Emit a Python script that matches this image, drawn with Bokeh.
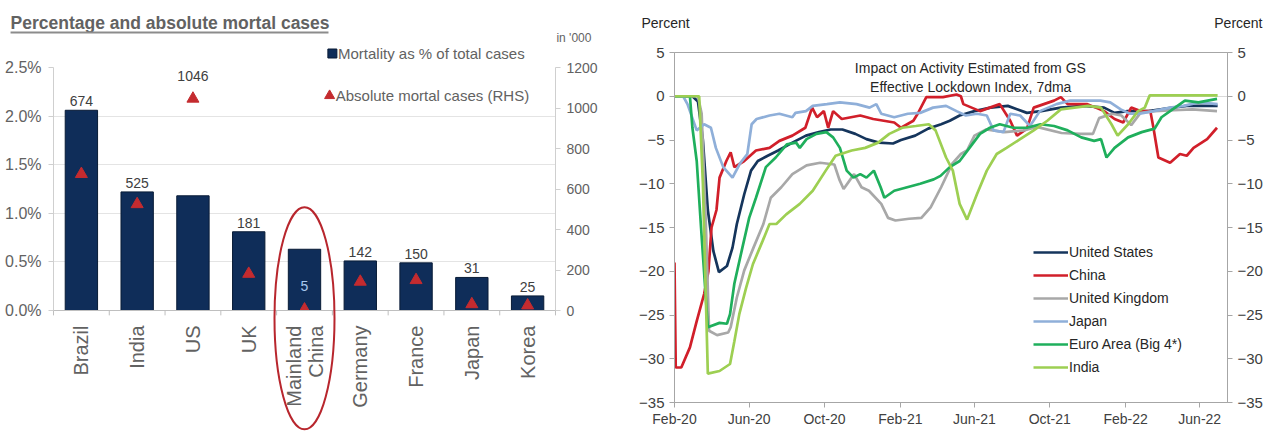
from math import pi
import pandas as pd
from bokeh.plotting import figure
from bokeh.layouts import row
from bokeh.models import (FactorRange, Range1d, LinearAxis, FixedTicker, PrintfTickFormatter,
                          DatetimeTickFormatter, Label, Legend, LegendItem, ColumnDataSource)
from bokeh.core.properties import value
from bokeh.embed import file_html
from bokeh.resources import INLINE

FONT = "Liberation Sans"
GREY_TXT = "#626262"
DARK_TXT = "#404040"
INK = "#262626"

# ---------------- left panel: mortality by country ----------------
countries = ["Brazil", "India", "US", "UK", "Mainland\nChina", "Germany", "France", "Japan", "Korea"]
mortality_pct = [2.06, 1.22, 1.18, 0.81, 0.63, 0.51, 0.49, 0.34, 0.15]
deaths_thousand = [674, 525, 1046, 181, 5, 142, 150, 31, 25]
pct_ticks = [0.0, 0.5, 1.0, 1.5, 2.0, 2.5]
abs_ticks = [0, 200, 400, 600, 800, 1000, 1200]
highlight = "Mainland\nChina"

# ---------------- right panel: lockdown impact (percent) ----------------
us_pts = [("2020-02-01", 0), ("2020-03-01", 0), ("2020-03-10", -0.6), ("2020-03-18", -5), ("2020-03-26", -13),
          ("2020-04-04", -17.7), ("2020-04-13", -20.1), ("2020-04-26", -19.4), ("2020-05-05", -17.3),
          ("2020-05-12", -14.6), ("2020-05-24", -11.2), ("2020-06-04", -8.5), ("2020-06-15", -7.4),
          ("2020-07-01", -6.8), ("2020-07-18", -6.2), ("2020-08-10", -5.3), ("2020-09-01", -4.5),
          ("2020-09-22", -4.1), ("2020-10-11", -3.8), ("2020-10-30", -3.8), ("2020-11-20", -4.3),
          ("2020-12-08", -4.9), ("2020-12-28", -5.3), ("2021-01-20", -5.4), ("2021-02-02", -5.0),
          ("2021-02-25", -4.5), ("2021-03-18", -3.7), ("2021-04-08", -3.2), ("2021-04-22", -2.8),
          ("2021-05-08", -2.2), ("2021-06-01", -1.7), ("2021-06-27", -1.3), ("2021-07-25", -1.1),
          ("2021-08-25", -1.9), ("2021-09-17", -1.7), ("2021-10-19", -1.3), ("2021-11-25", -1.1),
          ("2021-12-28", -1.3), ("2022-01-14", -1.9), ("2022-02-04", -1.7), ("2022-03-10", -1.7),
          ("2022-04-18", -1.3), ("2022-05-11", -1.1), ("2022-06-13", -1.1), ("2022-06-30", -1.1)]
china_pts = [("2020-02-01", -19), ("2020-02-03", -31), ("2020-02-12", -31), ("2020-02-26", -28.7),
             ("2020-03-08", -25.7), ("2020-03-20", -22.6), ("2020-03-27", -20), ("2020-04-01", -15),
             ("2020-04-09", -13), ("2020-04-14", -9.3), ("2020-04-25", -7.4), ("2020-05-02", -6.4),
             ("2020-05-08", -8.1), ("2020-05-24", -7.4), ("2020-06-12", -6.2), ("2020-07-04", -5.9),
             ("2020-07-20", -5.1), ("2020-08-10", -4.5), ("2020-08-31", -3.6), ("2020-09-11", -1.3),
             ("2020-09-19", -2.4), ("2020-09-30", -1.7), ("2020-10-07", -3.6), ("2020-10-15", -1.7),
             ("2020-10-29", -2.6), ("2020-11-28", -2.2), ("2020-12-19", -2.6), ("2021-01-22", -3.0),
             ("2021-02-02", -3.6), ("2021-02-22", -2.8), ("2021-03-01", -2.0), ("2021-03-15", -0.1),
             ("2021-04-11", -0.1), ("2021-05-03", 0.2), ("2021-05-10", 0.0), ("2021-05-14", -0.9),
             ("2021-06-10", -1.7), ("2021-07-12", -0.9), ("2021-07-29", -2.8), ("2021-08-09", -4.5),
             ("2021-08-25", -3.7), ("2021-09-05", -1.3), ("2021-10-08", -0.5), ("2021-10-19", -0.1),
             ("2021-10-30", -0.9), ("2021-12-01", -0.9), ("2021-12-28", -1.7), ("2022-01-14", -2.6),
             ("2022-01-28", -3.0), ("2022-02-10", -1.3), ("2022-02-25", -1.7), ("2022-03-13", -1.7),
             ("2022-03-18", -3.6), ("2022-03-26", -7.0), ("2022-04-14", -7.6), ("2022-04-30", -6.6),
             ("2022-05-11", -6.8), ("2022-05-22", -5.9), ("2022-06-13", -4.9), ("2022-06-29", -3.6)]
uk_pts = [("2020-02-01", 0), ("2020-03-10", 0), ("2020-03-16", -2), ("2020-03-23", -15), ("2020-03-28", -26.8),
          ("2020-04-10", -27.3), ("2020-04-28", -27.0), ("2020-05-02", -26.4), ("2020-05-12", -23),
          ("2020-05-24", -19.9), ("2020-06-08", -17.3), ("2020-06-24", -14.6), ("2020-07-06", -11.6),
          ("2020-07-23", -10.4), ("2020-08-10", -8.9), ("2020-09-02", -7.9), ("2020-09-24", -7.6),
          ("2020-10-17", -7.8), ("2020-10-25", -9.5), ("2020-11-01", -10.6), ("2020-11-18", -8.9),
          ("2020-11-30", -10.4), ("2020-12-12", -10.8), ("2021-01-01", -12.3), ("2021-01-12", -13.9),
          ("2021-01-24", -14.2), ("2021-02-15", -14.0), ("2021-03-07", -13.9), ("2021-03-22", -12.7),
          ("2021-04-08", -10.4), ("2021-04-26", -7.7), ("2021-05-10", -6.6), ("2021-05-20", -6.2),
          ("2021-06-01", -4.5), ("2021-06-20", -3.8), ("2021-07-20", -4.1), ("2021-08-20", -3.9),
          ("2021-09-10", -3.5), ("2021-10-20", -4.2), ("2021-11-20", -4.3), ("2021-12-10", -4.3),
          ("2021-12-20", -2.5), ("2022-01-10", -2.0), ("2022-01-25", -2.2), ("2022-02-10", -3.3),
          ("2022-02-25", -1.9), ("2022-03-20", -1.7), ("2022-04-20", -1.6), ("2022-05-20", -1.5),
          ("2022-06-29", -1.7)]
japan_pts = [("2020-02-01", 0), ("2020-02-15", 0), ("2020-02-22", -0.9), ("2020-03-08", -3.9),
             ("2020-03-20", -3.2), ("2020-03-31", -3.6), ("2020-04-08", -5.9), ("2020-04-20", -8.1),
             ("2020-05-05", -9.3), ("2020-05-17", -7.7), ("2020-05-29", -6.6), ("2020-06-05", -3.2),
             ("2020-06-13", -2.6), ("2020-07-04", -2.2), ("2020-07-20", -2.0), ("2020-08-10", -2.4),
             ("2020-08-15", -1.9), ("2020-09-01", -1.7), ("2020-09-12", -1.1), ("2020-10-05", -0.9),
             ("2020-10-26", -0.7), ("2020-11-22", -0.9), ("2020-12-13", -1.3), ("2020-12-24", -0.9),
             ("2021-01-01", -2.0), ("2021-01-22", -2.4), ("2021-02-13", -2.0), ("2021-03-05", -1.9),
             ("2021-03-26", -1.3), ("2021-04-16", -1.1), ("2021-05-03", -1.7), ("2021-05-18", -2.2),
             ("2021-06-05", -2.0), ("2021-06-21", -2.2), ("2021-07-02", -3.9), ("2021-07-18", -4.1),
             ("2021-07-29", -2.0), ("2021-08-14", -2.2), ("2021-08-30", -3.4), ("2021-09-15", -1.7),
             ("2021-10-12", -0.9), ("2021-11-03", -0.5), ("2021-11-25", -0.5), ("2021-12-22", -0.5),
             ("2022-01-07", -0.7), ("2022-01-24", -1.5), ("2022-02-08", -2.0), ("2022-02-24", -2.0),
             ("2022-03-18", -1.7), ("2022-04-14", -1.3), ("2022-05-06", -1.1), ("2022-05-30", -0.7),
             ("2022-06-30", -0.9)]
euro_pts = [("2020-02-01", 0), ("2020-02-26", 0), ("2020-03-01", -3.6), ("2020-03-08", -7.4),
            ("2020-03-15", -15), ("2020-03-26", -26.4), ("2020-04-14", -25.9), ("2020-04-26", -26),
            ("2020-05-01", -24.9), ("2020-05-08", -21.4), ("2020-05-21", -17.3), ("2020-06-01", -13.9),
            ("2020-06-12", -11.6), ("2020-06-28", -8.1), ("2020-07-14", -7.0), ("2020-08-01", -5.5),
            ("2020-08-16", -5.3), ("2020-08-22", -5.9), ("2020-09-02", -4.9), ("2020-09-18", -4.3),
            ("2020-10-04", -4.1), ("2020-10-15", -4.7), ("2020-10-26", -5.9), ("2020-11-06", -8.5),
            ("2020-11-17", -9.3), ("2020-11-28", -8.9), ("2020-12-08", -9.3), ("2020-12-20", -8.5),
            ("2020-12-31", -10.4), ("2021-01-06", -11.6), ("2021-01-22", -10.8), ("2021-02-12", -10.4),
            ("2021-03-05", -10.0), ("2021-03-27", -9.5), ("2021-04-07", -9.1), ("2021-04-22", -8.1),
            ("2021-05-08", -7.4), ("2021-05-24", -5.9), ("2021-06-10", -4.3), ("2021-06-26", -3.6),
            ("2021-07-12", -3.2), ("2021-08-03", -3.6), ("2021-08-25", -3.6), ("2021-09-16", -3.2),
            ("2021-10-08", -3.4), ("2021-10-30", -3.9), ("2021-11-21", -4.7), ("2021-12-12", -5.1),
            ("2021-12-23", -4.9), ("2022-01-01", -7.0), ("2022-01-14", -5.9), ("2022-02-05", -4.7),
            ("2022-02-27", -4.1), ("2022-03-20", -3.7), ("2022-03-31", -2.4), ("2022-04-22", -1.3),
            ("2022-05-08", -0.5), ("2022-05-30", -0.7), ("2022-06-14", -0.5), ("2022-06-29", -0.3)]
india_pts = [("2020-02-01", 0), ("2020-03-12", 0), ("2020-03-18", -10), ("2020-03-26", -31.7),
             ("2020-04-14", -31.4), ("2020-05-01", -30.6), ("2020-05-08", -28), ("2020-05-16", -24.9),
             ("2020-05-27", -21.9), ("2020-06-07", -19.2), ("2020-06-23", -16.5), ("2020-07-04", -14.6),
             ("2020-07-15", -14.6), ("2020-07-31", -13.5), ("2020-08-22", -12.3), ("2020-09-12", -10.8),
             ("2020-10-03", -8.5), ("2020-10-19", -6.8), ("2020-11-14", -6.2), ("2020-12-06", -5.9),
             ("2020-12-27", -5.3), ("2021-01-14", -4.3), ("2021-02-04", -3.6), ("2021-02-26", -3.4),
             ("2021-03-19", -3.2), ("2021-03-30", -3.9), ("2021-04-16", -7.0), ("2021-04-27", -8.5),
             ("2021-05-08", -12.3), ("2021-05-20", -14.1), ("2021-06-05", -11.2), ("2021-06-21", -8.5),
             ("2021-07-07", -6.6), ("2021-07-23", -5.9), ("2021-08-14", -4.9), ("2021-09-05", -3.9),
             ("2021-09-27", -2.8), ("2021-10-19", -1.5), ("2021-11-10", -1.3), ("2021-12-02", -1.1),
             ("2021-12-23", -1.3), ("2022-01-09", -3.2), ("2022-01-19", -4.5), ("2022-02-05", -3.2),
             ("2022-02-21", -1.7), ("2022-03-04", -1.3), ("2022-03-12", 0.1), ("2022-04-20", 0.1),
             ("2022-06-30", 0.1)]

series = [("United States", us_pts, "#15355c"),
          ("China", china_pts, "#d11f2a"),
          ("United Kingdom", uk_pts, "#a8a8a8"),
          ("Japan", japan_pts, "#8fafd9"),
          ("Euro Area (Big 4*)", euro_pts, "#1faf5c"),
          ("India", india_pts, "#9dcf52")]
pct_axis_ticks = [5, 0, -5, -10, -15, -20, -25, -30, -35]
date_ticks = ["2020-02-01", "2020-06-01", "2020-10-01", "2021-02-01",
              "2021-06-01", "2021-10-01", "2022-02-01", "2022-06-01"]


def style_axis(a, size, color, line_color):
    a.axis_line_color = line_color
    a.major_tick_line_color = line_color
    a.major_tick_in = 0
    a.major_tick_out = 5
    a.minor_tick_line_color = None
    a.major_label_text_font = FONT
    a.major_label_text_font_size = size
    a.major_label_text_color = color


# ===================== left figure =====================
pct_max = pct_ticks[-1]
abs_max = abs_ticks[-1]
n_cat = len(countries)
left = figure(width=620, height=438, x_range=FactorRange(factors=countries),
              y_range=Range1d(0, pct_max), output_backend="svg", toolbar_location=None,
              min_border_left=53, min_border_right=65, min_border_top=67, min_border_bottom=128,
              frame_align=False)
left.outline_line_color = None
left.extra_y_ranges = {"abs": Range1d(0, abs_max)}
left.xgrid.grid_line_color = None
left.ygrid.ticker = FixedTicker(ticks=pct_ticks)
left.ygrid.grid_line_color = "#e4e4e4"

lax = left.yaxis[0]
lax.ticker = FixedTicker(ticks=pct_ticks)
lax.formatter = PrintfTickFormatter(format="%.1f%%")
style_axis(lax, "16px", GREY_TXT, "#cfcfcf")
lax.major_label_standoff = 7

rax = LinearAxis(y_range_name="abs", ticker=FixedTicker(ticks=abs_ticks))
style_axis(rax, "14px", GREY_TXT, "#cfcfcf")
rax.major_label_standoff = 6
left.add_layout(rax, "right")

xax = left.xaxis[0]
style_axis(xax, "20px", GREY_TXT, "#bfbfbf")
xax.major_tick_line_color = None
xax.major_label_orientation = pi / 2
xax.major_label_standoff = 10
xax.major_label_text_line_height = 1.0

src = ColumnDataSource(dict(country=countries, pct=mortality_pct, deaths=deaths_thousand))
left.vbar(x="country", top="pct", width=0.58, source=src,
          fill_color="#0f2d59", line_color="#081b36", line_width=1)
left.scatter(x="country", y="deaths", y_range_name="abs", source=src, marker="triangle",
             size=12, fill_color="#c42b2f", line_color="#c42b2f")

# value labels: above the taller of bar / triangle; the highlighted one sits inside its bar
lab_y, lab_off, lab_col = [], [], []
for c, p_, d in zip(countries, mortality_pct, deaths_thousand):
    t = d / abs_max * pct_max
    if c == highlight:
        lab_y.append(t); lab_off.append(-18); lab_col.append("#a8c8ee")
    elif t > p_:
        lab_y.append(t); lab_off.append(-18); lab_col.append(DARK_TXT)
    else:
        lab_y.append(p_); lab_off.append(-4); lab_col.append(DARK_TXT)
lsrc = ColumnDataSource(dict(country=countries, y=lab_y, off=lab_off, col=lab_col,
                             txt=[str(d) for d in deaths_thousand]))
left.text(x="country", y="y", text="txt", y_offset="off", text_color="col", source=lsrc,
          text_align="center", text_baseline="bottom", text_font=value(FONT),
          text_font_size="14px")

# boundary ticks under the category axis
bounds = list(range(0, n_cat + 1))
left.segment(x0=bounds, y0=[0] * len(bounds), x1=bounds, y1=[-0.05] * len(bounds),
             line_color="#bfbfbf", line_width=1, level="overlay")

# ring around the highlighted category
left.ellipse(x=[highlight], y=[-0.08], width=60, height=222, width_units="screen",
             height_units="screen", fill_color=None, line_color="#b8262d", line_width=2,
             level="overlay")

# legend keys and texts
left.rect(x=[5.0], y=[2.644], width=9, height=9, width_units="screen", height_units="screen",
          fill_color="#0f2d59", line_color="#081b36", level="overlay")
left.scatter(x=[4.95], y=[2.21], marker="triangle", size=10, fill_color="#c42b2f",
             line_color="#c42b2f", level="overlay")
left.text(x=[5.1, 5.06], y=[pct_max, 2.21], y_offset=[-14, 0],
          text=["Mortality as % of total cases", "Absolute mortal cases (RHS)"],
          text_font=value(FONT), text_font_size="15px", text_color=GREY_TXT,
          text_baseline="middle", level="overlay")
left.text(x=[n_cat - 0.001], y=[pct_max], x_offset=1, y_offset=-30, text=["in '000"],
          text_font=value(FONT), text_font_size="12px", text_color=GREY_TXT,
          text_baseline="middle", level="overlay")
left.text(x=[0.001], y=[pct_max], x_offset=-43, y_offset=-45,
          text=["Percentage and absolute mortal cases"], text_font=value(FONT),
          text_font_size="17.5px", text_font_style="bold", text_color=GREY_TXT,
          text_baseline="middle", level="overlay")
left.segment(x0=[-0.77], y0=[2.86], x1=[4.93], y1=[2.86], line_color="#8c8c8c", line_width=2,
             level="overlay")

# ===================== right figure =====================
x_start = pd.Timestamp("2020-02-01")
x_end = pd.Timestamp("2022-07-16")
right = figure(width=653, height=438, x_axis_type="datetime", x_range=Range1d(x_start, x_end),
               y_range=Range1d(pct_axis_ticks[-1], pct_axis_ticks[0]), output_backend="svg",
               toolbar_location=None, min_border_left=54, min_border_right=46,
               min_border_top=52, min_border_bottom=36, frame_align=False)
right.outline_line_color = "#a6a6a6"
right.xgrid.grid_line_color = None
right.ygrid.ticker = FixedTicker(ticks=[0])
right.ygrid.grid_line_color = "#d9d9d9"

ryl = right.yaxis[0]
ryl.ticker = FixedTicker(ticks=pct_axis_ticks)
style_axis(ryl, "15px", DARK_TXT, "#a6a6a6")
ryr = LinearAxis(ticker=FixedTicker(ticks=pct_axis_ticks))
style_axis(ryr, "15px", DARK_TXT, "#a6a6a6")
right.add_layout(ryr, "right")

rxa = right.xaxis[0]
rxa.ticker = FixedTicker(ticks=[pd.Timestamp(d).value / 1e6 for d in date_ticks])
fmt = "%b-%y"
rxa.formatter = DatetimeTickFormatter(years=fmt, months=fmt, days=fmt, hours=fmt, minutes=fmt,
                                      seconds=fmt, milliseconds=fmt, microseconds=fmt)
style_axis(rxa, "14px", DARK_TXT, "#a6a6a6")
rxa.major_label_standoff = 3

items = []
for name, pts, color in series:
    xs = pd.to_datetime([d for d, _ in pts])
    ys = [v for _, v in pts]
    r = right.line(x=xs, y=ys, line_color=color, line_width=2.7)
    items.append(LegendItem(label=name, renderers=[r]))

legend = Legend(items=items, location=(359, 25), glyph_width=35, glyph_height=20, label_height=20,
                spacing=3, padding=0, margin=0, label_standoff=1, border_line_color=None,
                background_fill_alpha=0, label_text_font=FONT, label_text_font_size="14px",
                label_text_color=INK)
right.add_layout(legend)

title_x = pd.Timestamp("2021-05-26").value / 1e6
right.add_layout(Label(x=title_x, y=3.26, text="Impact on Activity Estimated from GS",
                       text_font=FONT, text_font_size="14px", text_color=INK,
                       text_align="center", text_baseline="middle"))
right.add_layout(Label(x=title_x, y=1.09, text="Effective Lockdown Index, 7dma",
                       text_font=FONT, text_font_size="14px", text_color=INK,
                       text_align="center", text_baseline="middle"))
right.text(x=[x_start, x_end], y=[pct_axis_ticks[0]] * 2, x_offset=[-33, 35], y_offset=[-30, -30],
           text=["Percent", "Percent"], text_align=["left", "right"], text_font=value(FONT),
           text_font_size="14px", text_color=INK, text_baseline="middle", level="overlay")

layout = row(left, right)
open("out.html", "w").write(file_html(layout, INLINE))
